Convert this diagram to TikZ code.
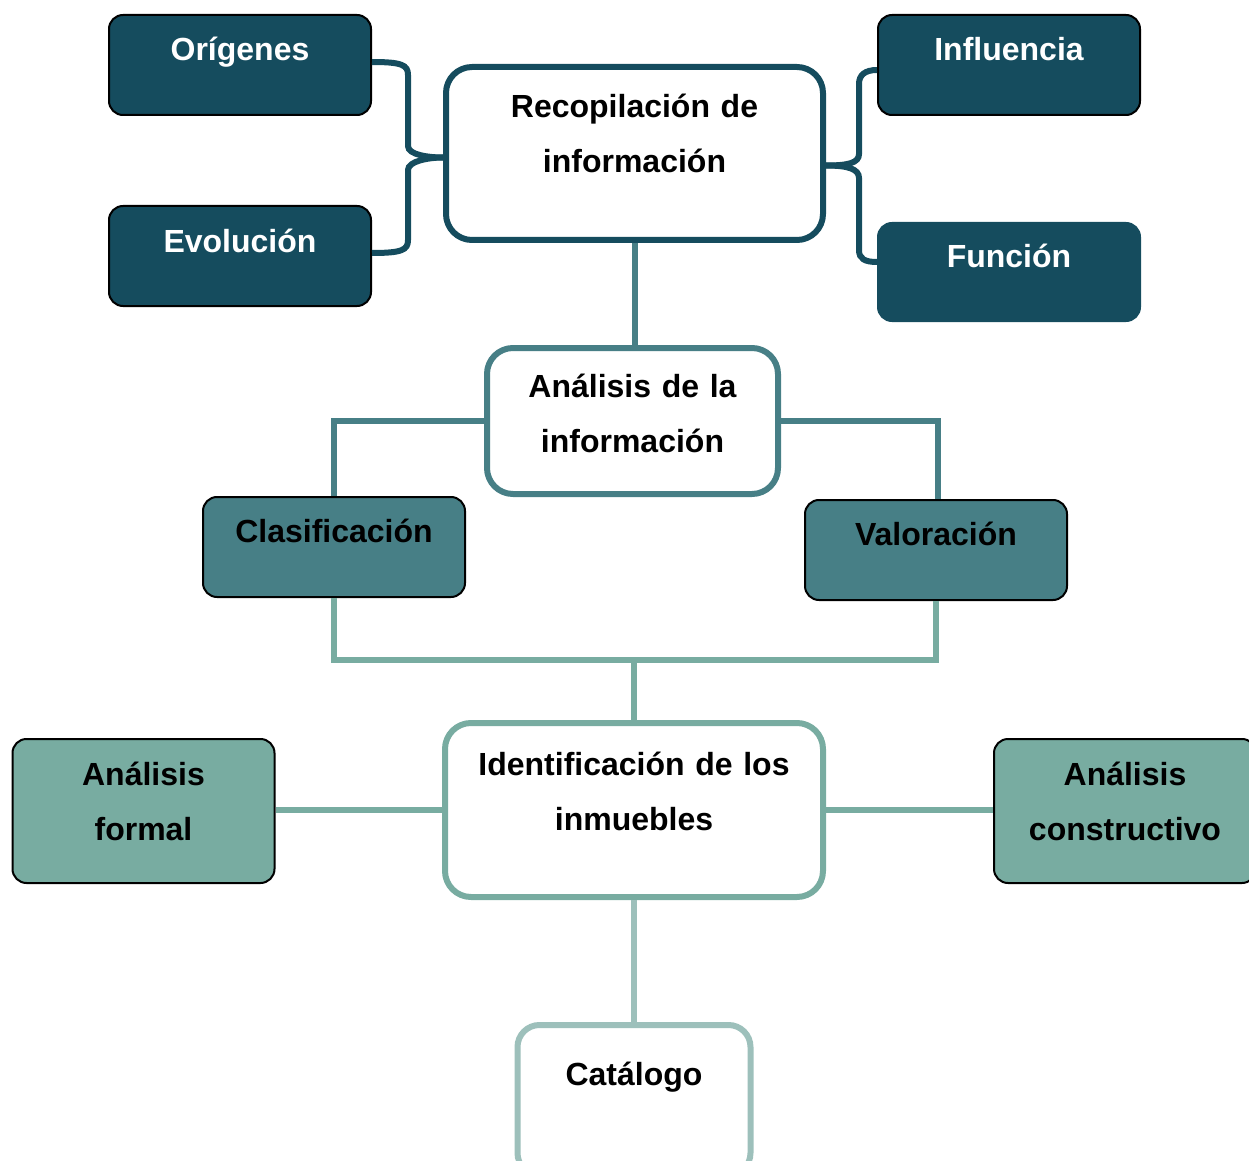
\documentclass[tikz,border=0pt]{standalone}
\usepackage{fontspec}
\setmainfont{Liberation Sans}
\usetikzlibrary{shapes,positioning,arrows,calc}
\definecolor{tealdark}{HTML}{154C5E}
\definecolor{tealmid}{HTML}{477F86}
\definecolor{teallight}{HTML}{78ACA1}
\definecolor{tealpale}{HTML}{9DC0BB}

\begin{document}
\begin{tikzpicture}[x=0.5pt,y=-0.5pt,
        every node/.style={font=\fontsize{16}{27.5}\selectfont\bfseries, inner sep=0pt, align=center},
        darkbox/.style={rectangle, rounded corners=7pt, fill=tealdark, draw=black, line width=1pt,
            text=white, text width=131pt, text height=23pt, text depth=27pt},
        midbox/.style={darkbox, fill=tealmid, text=black},
        lightbox/.style={darkbox, fill=teallight, text=black, text depth=49pt},
        whitebox/.style={rectangle, rounded corners=13pt, fill=white, line width=3pt},
        brace/.style={draw=tealdark, line width=3pt},
        midline/.style={draw=tealmid, line width=3pt},
        lightline/.style={draw=teallight, line width=3pt},
        paleline/.style={draw=tealpale, line width=3pt}]
        \useasboundingbox (0,0) rectangle (1249,1161);
        % Draw top boxes
        \node[darkbox] (ori) at (240,65) {Orígenes};
        \node[darkbox] (evo) at (240,256) {Evolución};
        \node[darkbox] (inf) at (1009,65) {Influencia};
        \node[darkbox, draw=tealdark, text height=22pt] (fun) at (1009,272) {Función};
        \node[whitebox, draw=tealdark, text width=188.5pt, text height=25.5pt, text depth=61pt] (rec) at (634.5,153.5) {Recopilación de\\información};
        % Draw analysis boxes
        \node[whitebox, draw=tealmid, text width=145.5pt, text height=24.5pt, text depth=48.5pt] (ana) at (632.5,421) {Análisis de la\\información};
        \node[midbox, text height=22.5pt, text depth=27.5pt] (cla) at (334,547) {Clasificación};
        \node[midbox, text height=22.5pt, text depth=27.5pt] (val) at (936,550) {Valoración};
        % Draw identification boxes
        \node[whitebox, draw=teallight, text width=189pt, text height=26pt, text depth=61pt] (ide) at (634,810) {Identificación de los\\inmuebles};
        \node[lightbox] (afo) at (143.5,811) {Análisis\\formal};
        \node[lightbox] (aco) at (1125,811) {Análisis\\constructivo};
        \node[whitebox, draw=tealpale, rounded corners=11pt, text width=116.5pt, text height=30pt, text depth=45pt] (cat) at (634,1100) {Catálogo};
        % Draw braces
        \draw[brace] ([yshift=1.5pt]ori.east) .. controls +(30,0) and +(0,-10) .. (408,75) -- (408,146)
            .. controls +(0,9) and +(-14,0) .. ([yshift=-2pt]rec.west);
        \draw[brace] ([yshift=1.5pt]evo.east) .. controls +(30,0) and +(0,10) .. (408,240) -- (408,170)
            .. controls +(0,-9) and +(-14,0) .. ([yshift=-2pt]rec.west);
        \draw[brace] ([yshift=-6pt]rec.east) .. controls +(22,0) and +(0,9) .. (859,154) -- (859,84)
            .. controls +(0,-9) and +(-12,0) .. ([yshift=-2.5pt]inf.west);
        \draw[brace] ([yshift=-6pt]rec.east) .. controls +(22,0) and +(0,-9) .. (859,178) -- (859,250)
            .. controls +(0,9) and +(-12,0) .. ([yshift=5pt]fun.west);
        % Draw connectors
        \draw[midline] (rec.south) -- (rec.south |- ana.north);
        \draw[midline] (ana.west) -| (cla.north);
        \draw[midline] (ana.east) -| ([xshift=1pt]val.north);
        \coordinate (jn) at (634,660);
        \draw[lightline] (cla.south) |- (jn) -| (val.south);
        \draw[lightline] (jn) -- (ide.north);
        \draw[lightline] (ide.west) -- (ide.west -| afo.east);
        \draw[lightline] (ide.east) -- (ide.east -| aco.west);
        \draw[paleline] (ide.south) -- (ide.south |- cat.north);
    \end{tikzpicture}
\end{document}
